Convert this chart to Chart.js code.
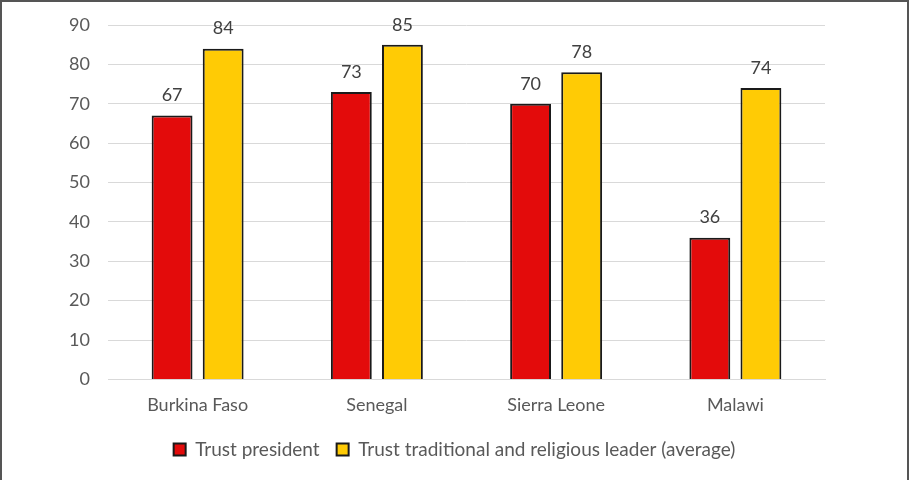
<!DOCTYPE html>
<html>
<head>
<meta charset="utf-8">
<script src="https://cdn.jsdelivr.net/npm/chart.js@4"></script>
<style>
  html, body { margin: 0; padding: 0; background: #fff; }
  #frame {
    position: absolute; left: 0; top: 0;
    width: 905px; height: 480px;
    border-left: 2px solid #555; border-top: 2px solid #555; border-right: 2px solid #555;
  }
  #wrap { position: absolute; left: 0; top: 0; width: 909px; height: 480px; }
</style>
</head>
<body>
<div id="wrap"><canvas id="chart" width="909" height="480"></canvas></div>
<div id="frame"></div>
<script>
// Data
const countries = ['Burkina Faso', 'Senegal', 'Sierra Leone', 'Malawi'];
const trustPresident = [67, 73, 70, 36];
const trustLeaders = [84, 85, 78, 74];
const seriesNames = ['Trust president', 'Trust traditional and religious leader (average)'];

const textColor = '#595959';
const fontFamily = 'Lato, "Liberation Sans", sans-serif';

// Value labels above bars
const valueLabels = {
  id: 'valueLabels',
  afterDatasetsDraw(chart) {
    const ctx = chart.ctx;
    ctx.save();
    ctx.font = '18px ' + fontFamily;
    ctx.fillStyle = '#404040';
    ctx.textAlign = 'center';
    ctx.textBaseline = 'middle';
    chart.data.datasets.forEach((ds, i) => {
      chart.getDatasetMeta(i).data.forEach((bar, j) => {
        ctx.fillText(ds.data[j], bar.x, bar.y - 20);
      });
    });
    ctx.restore();
  }
};

const ctx = document.getElementById('chart').getContext('2d');
new Chart(ctx, {
  type: 'bar',
  data: {
    labels: countries,
    datasets: [
      {
        label: seriesNames[0],
        data: trustPresident,
        backgroundColor: '#E30B0B',
        borderColor: '#1a1a1a',
        borderWidth: 2,
        categoryPercentage: 0.57,
        barPercentage: 0.8
      },
      {
        label: seriesNames[1],
        data: trustLeaders,
        backgroundColor: '#FFCB05',
        borderColor: '#1a1a1a',
        borderWidth: 2,
        categoryPercentage: 0.57,
        barPercentage: 0.8
      }
    ]
  },
  options: {
    responsive: false,
    animation: false,
    layout: { padding: { left: 0, right: 0, top: 25, bottom: 11 } },
    plugins: {
      legend: {
        position: 'bottom',
        labels: {
          color: textColor,
          font: { family: fontFamily, size: 19 },
          boxWidth: 12,
          boxHeight: 12,
          padding: 17
        }
      },
      tooltip: { enabled: false }
    },
    scales: {
      x: {
        grid: { display: false },
        border: { color: '#d9d9d9', width: 1 },
        ticks: { color: textColor, font: { family: fontFamily, size: 18 }, padding: 7 }
      },
      y: {
        min: 0,
        max: 90,
        afterFit(scale) {
          scale.width = 108;
          scale.paddingTop = 0;
          scale.paddingBottom = 0;
        },
        border: { display: false },
        grid: { color: '#d9d9d9', drawTicks: false },
        ticks: { stepSize: 10, color: textColor, font: { family: fontFamily, size: 18 }, padding: 18 }
      },
      // empty right axis reserving the blank margin
      yRight: {
        position: 'right',
        min: 0,
        max: 90,
        afterFit(scale) { scale.width = 84; },
        border: { display: false },
        grid: { display: false },
        ticks: { display: false }
      }
    }
  },
  plugins: [valueLabels]
});
</script>
</body>
</html>
